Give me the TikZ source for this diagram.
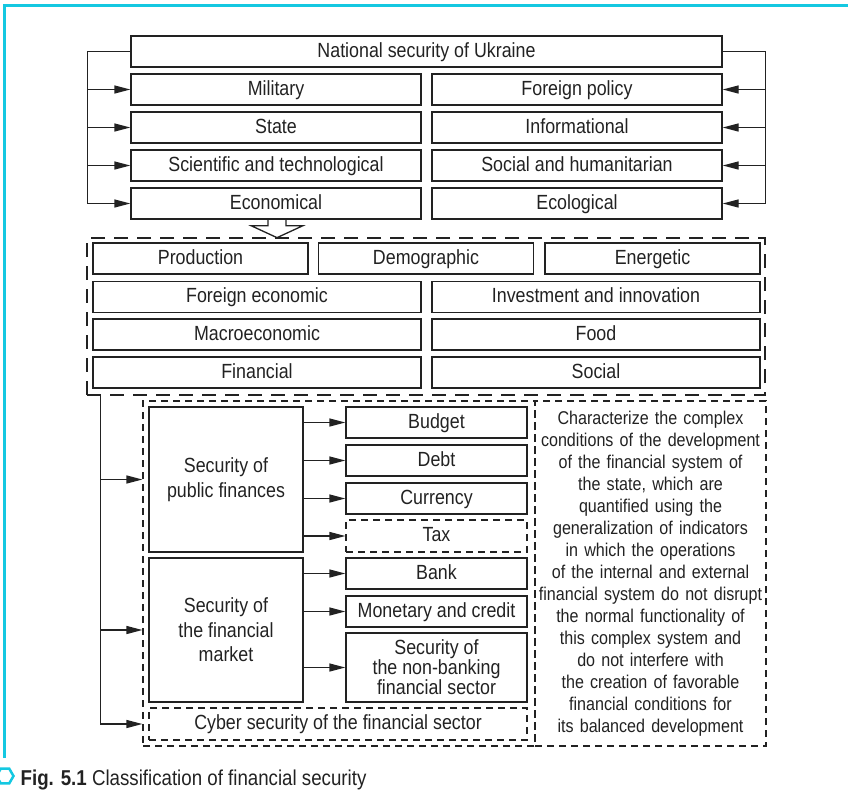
\documentclass[tikz,border=0pt]{standalone}
\usepackage{fontspec}
\setmainfont{Liberation Sans}[FakeStretch=0.87]
\usepackage{tikz}
\usetikzlibrary{positioning, arrows.meta, shapes.geometric}

\definecolor{ink}{RGB}{34,34,34}
\definecolor{framecyan}{RGB}{20,200,225}

\tikzset{
    secbox/.style={draw=ink, text=ink, line width=1.3pt, inner sep=0pt,
        minimum height=31pt, align=center,
        font=\fontsize{20.5}{24.5}\selectfont},
    kind/.style={secbox, text height=15pt, text depth=4pt},
    colbox/.style={kind, minimum width=290pt},
    thirdbox/.style={kind, minimum width=215pt},
    halfbox/.style={kind, minimum width=328pt},
    subbox/.style={kind, minimum width=181pt},
    dashbox/.style={draw=ink, line width=1.2pt, dash pattern=on 7pt off 5pt, inner sep=0pt},
    bigdash/.style={draw=ink, line width=1.3pt, dash pattern=on 14pt off 9pt, inner sep=0pt},
}

\begin{document}
\begin{tikzpicture}[x=1pt, y=-1pt, >={Triangle[length=16pt, width=8pt]},
        line width=1.3pt, draw=ink]
    \useasboundingbox (0,0) rectangle (848,796);

    % page frame
    \draw[framecyan, line width=3pt] (4,758) -- (4,5) -- (848,5);

    % national security and its kinds
    \node[kind, minimum width=591pt] (nat) at (426.5,51.5) {National security of Ukraine};
    \node[colbox] (mil) at (276,89.5)  {Military};
    \node[colbox] (sta) at (276,127.5) {State};
    \node[colbox] (sci) at (276,165.5) {Scientific and technological};
    \node[colbox] (eco) at (276,203.5) {Economical};
    \node[colbox] (for) at (577,89.5)  {Foreign policy};
    \node[colbox] (inf) at (577,127.5) {Informational};
    \node[colbox] (hum) at (577,165.5) {Social and humanitarian};
    \node[colbox] (ecl) at (577,203.5) {Ecological};

    \coordinate (lbus) at ([xshift=-43pt]nat.west);
    \coordinate (rbus) at ([xshift=43pt]nat.east);
    \draw[->] (nat.west) -- (lbus) |- (eco.west);
    \draw[->] (nat.east) -- (rbus) |- (ecl.east);
    \foreach \n in {mil,sta,sci}
        \draw[->] (lbus |- \n) -- (\n.west);
    \foreach \n in {for,inf,hum}
        \draw[->] (rbus |- \n) -- (\n.east);

    % hollow arrow to the economic part
    \draw ([xshift=-8pt]eco.south) -- ++(0,6) -- ++(-17,0) -- ++(26,12)
        -- ++(26,-12) -- ++(-17,0) -- ++(0,-6);

    % kinds of economic security
    \node[bigdash, minimum width=678pt, minimum height=157pt] (kinds) at (426,316.5) {};
    \node[thirdbox] (prod) at (200.5,258.5) {Production};
    \node[thirdbox] (demo) at (426,258.5)   {Demographic};
    \node[thirdbox] (ener) at (652.5,258.5) {Energetic};
    \node[halfbox] (fecon) at (257,297)   {Foreign economic};
    \node[halfbox] (inv)   at (596,297)   {Investment and innovation};
    \node[halfbox] (macro) at (257,334.5) {Macroeconomic};
    \node[halfbox] (food)  at (596,334.5) {Food};
    \node[halfbox] (fin)   at (257,372.5) {Financial};
    \node[halfbox] (soc)   at (596,372.5) {Social};

    % financial security
    \node[dashbox, minimum width=392pt, minimum height=345pt] (grp) at (339,573.5) {};
    \node[dashbox, minimum width=231pt, minimum height=345pt, text width=228pt,
        align=center, text=ink, font=\fontsize{18.5}{22}\selectfont] (desc) at (650.5,573.5)
        {Characterize the complex\\
        conditions of the development\\
        of the financial system of\\
        the state, which are\\
        quantified using the\\
        generalization of indicators\\
        in which the operations\\
        of the internal and external\\
        financial system do not disrupt\\
        the normal functionality of\\
        this complex system and\\
        do not interfere with\\
        the creation of favorable\\
        financial conditions for\\
        its balanced development};

    \node[secbox, minimum width=154pt, minimum height=145pt] (pub) at (226,479.5)
        {Security of\\public finances};
    \node[secbox, minimum width=154pt, minimum height=144pt] (mkt) at (226,630)
        {Security of\\the financial\\market};
    \node[subbox] (bud)  at (436.5,422.5) {Budget};
    \node[subbox] (debt) at (436.5,460.5) {Debt};
    \node[subbox] (cur)  at (436.5,498.5) {Currency};
    \node[subbox, dashbox, minimum height=32pt] (tax) at (436.5,536) {Tax};
    \node[subbox] (bank) at (436.5,573.5) {Bank};
    \node[subbox] (mon)  at (436.5,611.5) {Monetary and credit};
    \node[secbox, minimum width=181pt, minimum height=69pt, font=\fontsize{20.5}{20}\selectfont]
        (nbk) at (436.5,667.5) {Security of\\the non-banking\\financial sector};
    \node[kind, dashbox, minimum width=378pt, minimum height=32pt] (cyb) at (338,724)
        {Cyber security of the financial sector};

    \foreach \n in {bud,debt,cur,tax}
        \draw[->] (pub.east |- \n) -- (\n.west);
    \foreach \n in {bank,mon,nbk}
        \draw[->] (mkt.east |- \n) -- (\n.west);

    \coordinate (trunk) at ([xshift=14pt]kinds.south west);
    \draw[->] (trunk) |- (grp.west |- cyb);
    \draw[->] (trunk |- pub) -- (grp.west |- pub);
    \draw[->] (trunk |- mkt) -- (grp.west |- mkt);

    % caption
    \node[regular polygon, regular polygon sides=6, draw=framecyan, line width=2.5pt,
        minimum size=17pt, inner sep=0pt] (hex) at (5,776) {};
    \node[anchor=base west, inner sep=0pt, text=ink, font=\fontsize{21.5}{24}\selectfont]
        (cap) at (20,785) {\textbf{Fig. 5.1} Classification of financial security};
\end{tikzpicture}
\end{document}
